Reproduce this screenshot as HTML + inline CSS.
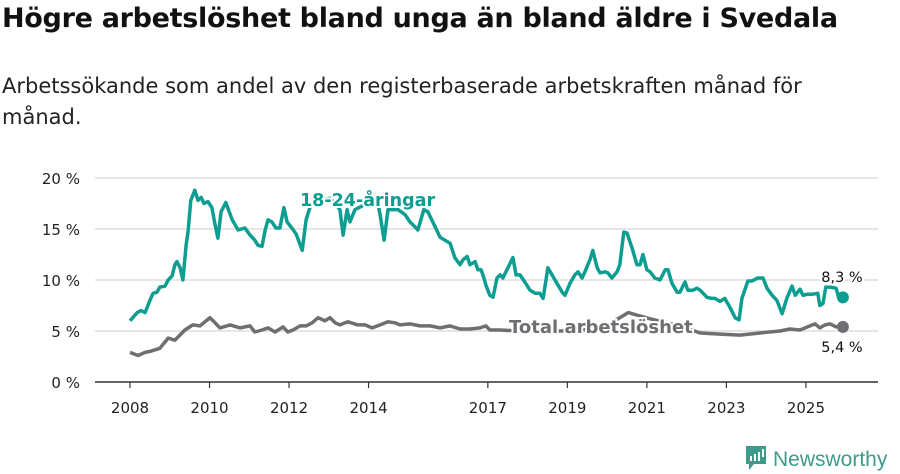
<!DOCTYPE html>
<html><head><meta charset="utf-8"><style>
body{margin:0;background:#fff;width:900px;height:474px;overflow:hidden;font-family:"DejaVu Sans","Liberation Sans",sans-serif;color:#111}
h1{position:absolute;left:2px;top:3px;margin:0;font-size:27px;font-weight:bold;letter-spacing:-0.3px;white-space:nowrap}
p.sub{position:absolute;left:2px;top:71px;margin:0;font-size:21px;line-height:31px;width:830px;color:#222}
svg{position:absolute;left:0;top:0}
.logo{position:absolute;left:745px;top:440px;font-size:21px;color:#3e9a8a;font-family:"Liberation Sans",sans-serif}
</style></head><body>
<h1>Högre arbetslöshet bland unga än bland äldre i Svedala</h1>
<p class="sub">Arbetssökande som andel av den registerbaserade arbetskraften månad för månad.</p>
<svg id="chart" width="900" height="474"></svg>
<div class="logo"><svg width="22" height="26" style="position:relative;top:5px;margin-right:6px" viewBox="0 0 22 26"><path d="M1 1h20v18H9l-5 6v-6H1z" fill="#3e9a8a"/><rect x="5" y="11" width="2" height="5" fill="#fff"/><rect x="9" y="9" width="2" height="7" fill="#fff"/><rect x="13" y="7" width="2" height="9" fill="#fff"/><rect x="17" y="4" width="2" height="8" fill="#fff"/></svg>Newsworthy</div>
<script>
const yTicks=[0,5,10,15,20];
const xTickYears=[2008,2010,2012,2014,2017,2019,2021,2023,2025];
const youngDates=[2008.00,2008.18,2008.28,2008.38,2008.50,2008.58,2008.68,2008.75,2008.88,2008.96,2009.06,2009.13,2009.18,2009.26,2009.33,2009.41,2009.46,2009.53,2009.63,2009.71,2009.79,2009.86,2009.96,2010.06,2010.14,2010.21,2010.29,2010.41,2010.57,2010.72,2010.89,2011.02,2011.14,2011.22,2011.32,2011.40,2011.47,2011.57,2011.67,2011.77,2011.87,2011.95,2012.07,2012.18,2012.33,2012.43,2012.55,2012.73,2013.03,2013.18,2013.28,2013.36,2013.46,2013.53,2013.66,2013.91,2014.24,2014.29,2014.39,2014.49,2014.74,2014.92,2015.04,2015.12,2015.24,2015.39,2015.49,2015.65,2015.80,2015.92,2016.05,2016.17,2016.30,2016.38,2016.48,2016.55,2016.68,2016.75,2016.83,2016.90,2016.95,2017.05,2017.13,2017.23,2017.31,2017.38,2017.48,2017.63,2017.71,2017.81,2017.93,2018.06,2018.19,2018.31,2018.39,2018.51,2018.69,2018.87,2018.94,2019.07,2019.19,2019.27,2019.37,2019.44,2019.57,2019.64,2019.75,2019.82,2019.95,2020.02,2020.12,2020.25,2020.32,2020.42,2020.50,2020.63,2020.75,2020.83,2020.90,2021.00,2021.08,2021.20,2021.33,2021.46,2021.53,2021.63,2021.76,2021.83,2021.96,2022.03,2022.16,2022.26,2022.34,2022.51,2022.64,2022.71,2022.84,2022.96,2023.09,2023.22,2023.32,2023.39,2023.54,2023.64,2023.79,2023.92,2024.02,2024.15,2024.27,2024.40,2024.52,2024.65,2024.73,2024.85,2024.93,2025.03,2025.15,2025.30,2025.35,2025.43,2025.50,2025.61,2025.76,2025.83,2025.93];
const youngValues=[6.0,6.8,7.0,6.8,8.0,8.7,8.8,9.3,9.4,10.0,10.4,11.5,11.8,11.2,10.0,13.4,14.7,17.8,18.8,17.8,18.1,17.5,17.7,17.1,15.4,14.1,16.7,17.6,15.9,14.9,15.1,14.4,13.9,13.4,13.3,14.9,15.9,15.7,15.1,15.1,17.1,15.7,15.1,14.5,12.9,15.9,17.4,17.8,18.0,17.4,16.9,14.4,16.9,15.7,16.9,17.4,17.4,16.4,13.9,16.9,16.9,16.4,15.7,15.4,14.9,16.9,16.7,15.4,14.2,13.9,13.6,12.2,11.5,12.0,12.3,11.5,11.8,11.0,11.0,10.2,9.5,8.5,8.3,10.2,10.5,10.2,11.0,12.2,10.5,10.5,9.8,9.0,8.7,8.7,8.2,11.2,10.0,8.8,8.5,9.7,10.5,10.8,10.2,10.8,12.0,12.9,11.2,10.7,10.8,10.7,10.2,10.8,11.5,14.7,14.6,13.1,11.5,11.5,12.5,11.0,10.8,10.2,10.0,11.0,11.0,9.7,8.8,8.8,9.8,9.0,9.0,9.2,9.0,8.3,8.2,8.2,7.9,8.2,7.3,6.3,6.1,8.2,9.9,9.9,10.2,10.2,9.2,8.5,8.0,6.7,8.2,9.4,8.5,9.1,8.5,8.6,8.6,8.7,7.5,7.7,9.3,9.3,9.2,8.2,8.3];
const totalDates=[2008.00,2008.20,2008.38,2008.50,2008.75,2008.96,2009.13,2009.38,2009.58,2009.76,2010.01,2010.14,2010.26,2010.52,2010.77,2011.02,2011.14,2011.32,2011.47,2011.65,2011.85,2011.97,2012.10,2012.28,2012.43,2012.58,2012.73,2012.90,2013.03,2013.16,2013.28,2013.48,2013.73,2013.91,2014.09,2014.29,2014.49,2014.66,2014.79,2015.04,2015.29,2015.55,2015.80,2016.05,2016.30,2016.55,2016.80,2016.95,2017.05,2017.31,2017.81,2018.81,2019.82,2020.32,2020.53,2021.08,2021.83,2022.34,2022.84,2023.34,2023.84,2024.35,2024.60,2024.85,2025.10,2025.23,2025.35,2025.48,2025.61,2025.76,2025.93];
const totalValues=[2.9,2.6,2.9,3.0,3.3,4.3,4.1,5.1,5.6,5.5,6.3,5.8,5.3,5.6,5.3,5.5,4.9,5.1,5.3,4.9,5.4,4.9,5.1,5.5,5.5,5.8,6.3,6.0,6.3,5.8,5.6,5.9,5.6,5.6,5.3,5.6,5.9,5.8,5.6,5.7,5.5,5.5,5.3,5.5,5.2,5.2,5.3,5.5,5.1,5.1,5.0,5.0,5.2,6.3,6.8,6.2,5.5,4.8,4.7,4.6,4.8,5.0,5.2,5.1,5.5,5.7,5.3,5.6,5.7,5.4,5.4];

const NS='http://www.w3.org/2000/svg';
const svg=document.getElementById('chart');
const x=y=>130+(y-2008)*39.76;
const yS=v=>382-v*10.2;
function mk(tag,attrs,parent){const e=document.createElementNS(NS,tag);for(const k in attrs)e.setAttribute(k,attrs[k]);(parent||svg).appendChild(e);return e;}
yTicks.forEach(t=>{
  const g=mk('line',{x1:95,x2:878,y1:yS(t),y2:yS(t),stroke:t===0?'#333':'#ddd','stroke-width':1.5});
  
  
  const l=mk('text',{x:80,y:yS(t)+6,'text-anchor':'end','font-size':15,fill:'#222'});
  l.textContent=t+' %';
  
  
});
xTickYears.forEach(yr=>{
  const t=mk('line',{x1:x(yr),x2:x(yr),y1:382,y2:388,stroke:'#333','stroke-width':1.2});
  
  
  const l=mk('text',{x:x(yr),y:413,'text-anchor':'middle','font-size':15,fill:'#222'});
  l.textContent=yr;
  
  
});
function line(d,v,color,name){
  const p=mk('path',{d:d.map((t,i)=>(i?'L':'M')+x(t).toFixed(1)+','+yS(v[i]).toFixed(1)).join(''),fill:'none',stroke:color,'stroke-width':3.5,'stroke-linejoin':'round'});
  
  
  const c=mk('circle',{cx:x(d[d.length-1]),cy:yS(v[v.length-1]),r:6,fill:color});
  
  
}
line(totalDates,totalValues,'#6e6e73','total-line');
line(youngDates,youngValues,'#0d9e91','youth-line');
function lab(txt,xx,yy,color,name,size,bold,anchor){
  const t=mk('text',{x:xx,y:yy,fill:color,'font-size':size,'font-weight':bold?'bold':'normal',stroke:'#fff','stroke-width':bold?4:4,'paint-order':'stroke','text-anchor':anchor||'start'});
  t.textContent=txt;
  
  
}
lab('18-24-åringar',300,206,'#0d9e91','youth-series-label',17.5,true);
lab('Total arbetslöshet',509,333,'#6e6e73','total-series-label',18,true);
lab('8,3 %',842,282,'#111','youth-end-value',14.5,false,'middle');
lab('5,4 %',842,352,'#111','total-end-value',14.5,false,'middle');
</script>
</body></html>
